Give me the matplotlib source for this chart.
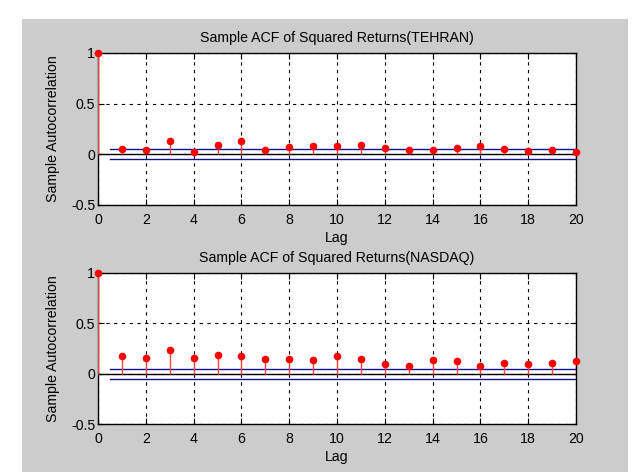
import numpy as np
import matplotlib.pyplot as plt
from matplotlib.patches import Rectangle

plt.rcParams['font.family'] = ['Liberation Sans', 'DejaVu Sans']

lags = list(range(0, 21))
acf_tehran = [1.0, 0.056, 0.04, 0.13, 0.023, 0.095, 0.13, 0.04, 0.07, 0.085, 0.078,
              0.095, 0.06, 0.043, 0.043, 0.065, 0.085, 0.056, 0.033, 0.043, 0.023]
acf_nasdaq = [1.0, 0.18, 0.158, 0.237, 0.158, 0.19, 0.18, 0.145, 0.145, 0.135, 0.171,
              0.145, 0.095, 0.072, 0.135, 0.125, 0.072, 0.105, 0.095, 0.105, 0.128]
bound = 0.05
titles = ['Sample ACF of Squared Returns(TEHRAN)', 'Sample ACF of Squared Returns(NASDAQ)']

W, H = 639, 472
fig = plt.figure(figsize=(W / 100, H / 100), dpi=100)
fig.patch.set_facecolor('white')
# grey window area
fig.add_artist(Rectangle((22 / W, 0), (628 - 22) / W, (H - 19) / H,
                         transform=fig.transFigure, facecolor='#cccccc',
                         edgecolor='none', zorder=-10))

fs = 10.2
boxes = [(53, 205), (273, 424)]
for (top, bot), acf, title in zip(boxes, [acf_tehran, acf_nasdaq], titles):
    ax = fig.add_axes([98 / W, (H - bot) / H, (576 - 98) / W, (bot - top) / H])
    ax.set_facecolor('white')
    ax.set_xlim(0, 20)
    ax.set_ylim(-0.5, 1)
    ax.set_xticks(range(0, 21, 2))
    ax.set_yticks([-0.5, 0, 0.5, 1])
    ax.set_yticklabels(['-0.5', '0', '0.5', '1'])
    ax.grid(True, color='black', linestyle=(0, (3, 4)), linewidth=0.8)
    ax.tick_params(direction='in', top=True, right=True, labelsize=fs, length=4)
    ax.tick_params(axis='x', pad=6)
    ax.tick_params(axis='y', pad=2)
    for s in ax.spines.values():
        s.set_linewidth(1.0)

    ax.axhline(0, color='black', linewidth=1.0, zorder=2)
    ax.plot([0.5, 20], [bound, bound], color='#10108a', linewidth=1.0, zorder=2)
    ax.plot([0.5, 20], [-bound, -bound], color='#10108a', linewidth=1.0, zorder=2)

    ax.vlines(lags, 0, acf, color='#ff4040', linewidth=1.0, zorder=3)
    ax.plot(lags, acf, 'o', color='#ff0000', markersize=4.5, zorder=4, clip_on=False)

    ax.set_title(title, fontsize=fs, pad=8)
    ax.set_xlabel('Lag', fontsize=fs, labelpad=3)
    ax.set_ylabel('Sample Autocorrelation', fontsize=fs, labelpad=8)

fig.savefig('out.png', dpi=100)
